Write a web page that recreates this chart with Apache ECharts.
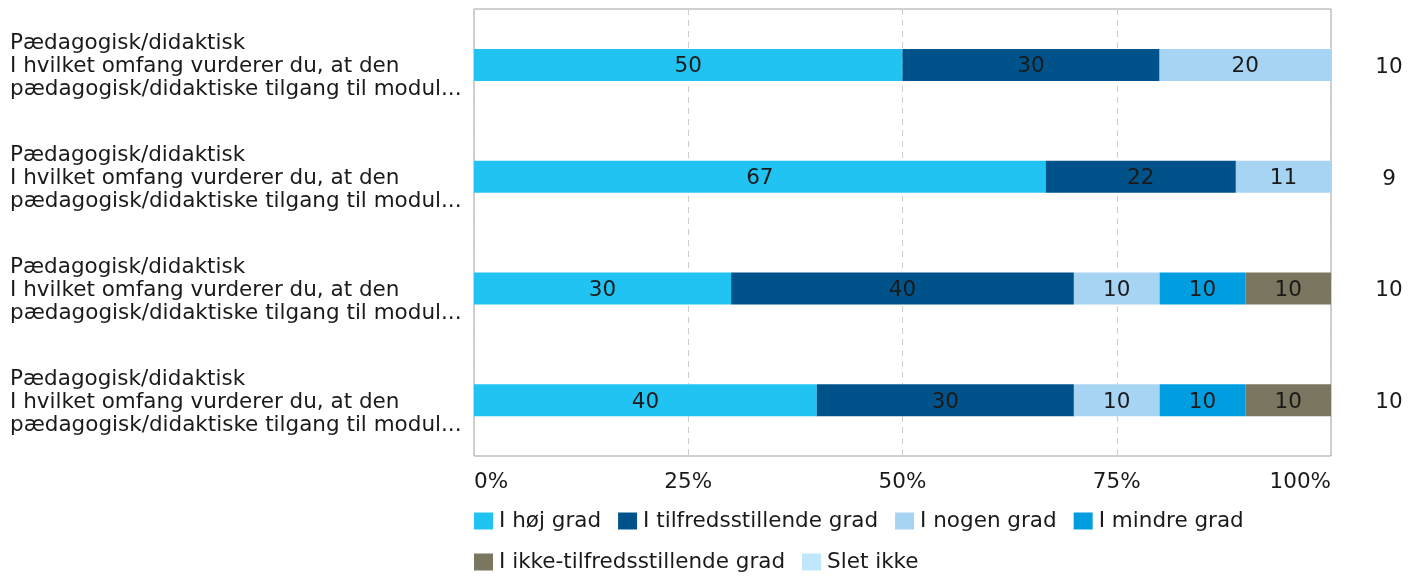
<!DOCTYPE html>
<html>
<head>
<meta charset="utf-8">
<script src="https://cdn.jsdelivr.net/npm/echarts@6/dist/echarts.min.js"></script>
<style>
html,body{margin:0;padding:0;background:#fff;}
#chart{width:1420px;height:576px;}
</style>
</head>
<body>
<div id="chart"></div>
<script>
const questions = [
  'Pædagogisk/didaktisk\nI hvilket omfang vurderer du, at den\npædagogisk/didaktiske tilgang til modul...',
  'Pædagogisk/didaktisk\nI hvilket omfang vurderer du, at den\npædagogisk/didaktiske tilgang til modul...',
  'Pædagogisk/didaktisk\nI hvilket omfang vurderer du, at den\npædagogisk/didaktiske tilgang til modul...',
  'Pædagogisk/didaktisk\nI hvilket omfang vurderer du, at den\npædagogisk/didaktiske tilgang til modul...'
];
const nCounts = ['10', '9', '10', '10'];
const seriesNames = ['I høj grad', 'I tilfredsstillende grad', 'I nogen grad', 'I mindre grad', 'I ikke-tilfredsstillende grad', 'Slet ikke'];
const hojGrad = [50, 66.7, 30, 40];
const tilfredsGrad = [30, 22.2, 40, 30];
const nogenGrad = [20, 11.1, 10, 10];
const mindreGrad = [0, 0, 10, 10];
const ikkeTilfredsGrad = [0, 0, 10, 10];
const sletIkke = [0, 0, 0, 0];
const xTicks = [0, 25, 50, 75, 100];
const colors = ['#21c3f3', '#00538a', '#a8d4f4', '#009ee0', '#7a7660', '#bfe6fa'];

const values = [hojGrad, tilfredsGrad, nogenGrad, mindreGrad, ikkeTilfredsGrad, sletIkke];
const FONT = 'DejaVu Sans, Verdana, sans-serif';
const TXT = '#1a1a1a';
const FS = 21.5;

const chart = echarts.init(document.getElementById('chart'));
chart.setOption({
  animation: false,
  textStyle: { fontFamily: FONT },
  grid: { left: 474, right: 89, top: 9, height: 447, show: true, borderColor: '#a0a0a0', borderWidth: 1, containLabel: false },
  xAxis: {
    type: 'value', min: xTicks[0], max: xTicks[xTicks.length - 1], interval: 25,
    axisLine: { show: false }, axisTick: { show: false },
    splitLine: { show: true, lineStyle: { color: '#cccccc', type: [6, 5], width: 1 } },
    axisLabel: { formatter: '{value}%', fontSize: FS, color: TXT, fontFamily: FONT, margin: 15, alignMinLabel: 'left', alignMaxLabel: 'right' }
  },
  yAxis: [
    {
      type: 'category', data: questions, inverse: true,
      axisLine: { show: false }, axisTick: { show: false }, splitLine: { show: false },
      axisLabel: {
        align: 'left', margin: 464, color: TXT, fontFamily: FONT, fontSize: FS,
        formatter: v => v.split('\n').map(l => '{q|' + l + '}').join('\n'),
        rich: { q: { fontSize: FS, lineHeight: 23, fontFamily: FONT, color: TXT, padding: [4, 0, 0, 0], height: 23 } }
      }
    },
    {
      type: 'category', data: nCounts, inverse: true, position: 'right',
      axisLine: { show: false }, axisTick: { show: false }, splitLine: { show: false },
      axisLabel: {
        align: 'center', margin: 58, fontSize: FS, color: TXT, fontFamily: FONT,
        formatter: v => '{n|' + v + '}',
        rich: { n: { fontSize: FS, lineHeight: 23, fontFamily: FONT, color: TXT, padding: [5, 0, 0, 0], height: 23 } }
      }
    }
  ],
  legend: [
    {
      data: seriesNames.slice(0, 4), left: 474, top: 510, orient: 'horizontal', padding: 0,
      icon: 'rect', itemWidth: 19, itemHeight: 17, itemGap: 17,
      textStyle: { fontSize: FS, lineHeight: 21, padding: [0, 0, 0, 1], color: TXT, fontFamily: FONT }
    },
    {
      data: seriesNames.slice(4), left: 474, top: 551, orient: 'horizontal', padding: 0,
      icon: 'rect', itemWidth: 19, itemHeight: 17, itemGap: 17,
      textStyle: { fontSize: FS, lineHeight: 21, padding: [0, 0, 0, 1], color: TXT, fontFamily: FONT }
    }
  ],
  series: seriesNames.map((name, i) => ({
    name: name, type: 'bar', stack: 'total', barWidth: 32,
    yAxisIndex: 0,
    itemStyle: { color: colors[i] },
    label: {
      show: true, position: 'inside', offset: [0, 2], fontSize: FS, color: TXT, fontFamily: FONT,
      formatter: p => p.value > 0 ? String(Math.round(p.value)) : ''
    },
    data: values[i]
  }))
});
</script>
</body>
</html>
